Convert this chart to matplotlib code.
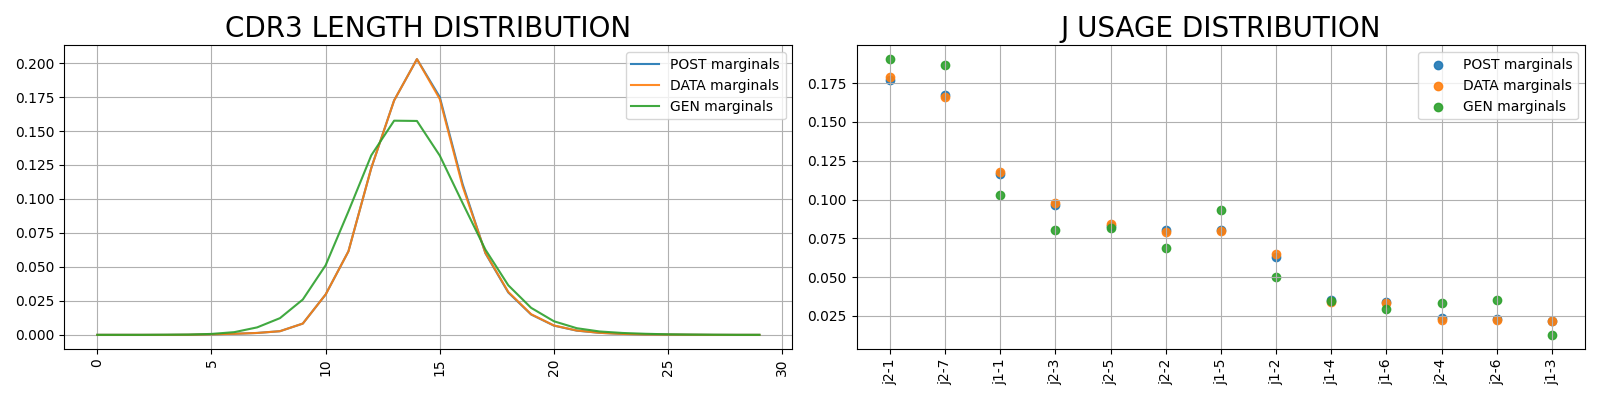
import numpy as np
import matplotlib
matplotlib.use("Agg")
import matplotlib.pyplot as plt

# longitudes CDR3 (0..29)
lengths = list(range(30))
post_len = [0, 0, 0, 0, 0.0001, 0.0004, 0.0008, 0.0014, 0.0027, 0.0083,
            0.0297, 0.0615, 0.1228, 0.1725, 0.2029, 0.1750, 0.1110, 0.0600,
            0.0312, 0.0150, 0.0068, 0.0031, 0.0015, 0.0007, 0.0003, 0.0002,
            0.0001, 0, 0, 0]
data_len = [0, 0, 0, 0, 0.0001, 0.0004, 0.0008, 0.0014, 0.0027, 0.0083,
            0.0297, 0.0615, 0.1228, 0.1725, 0.2029, 0.1735, 0.1093, 0.0603,
            0.0316, 0.0152, 0.0069, 0.0032, 0.0015, 0.0007, 0.0003, 0.0002,
            0.0001, 0, 0, 0]
gen_len = [0, 0, 0, 0.0001, 0.0002, 0.0007, 0.0020, 0.0055, 0.0123, 0.0260,
           0.0512, 0.0909, 0.1321, 0.1576, 0.1574, 0.1319, 0.0970, 0.0627,
           0.0365, 0.0199, 0.0100, 0.0049, 0.0025, 0.0014, 0.0008, 0.0004,
           0.0002, 0.0001, 0, 0]

# uso de genes J
j_genes = ["j2-1", "j2-7", "j1-1", "j2-3", "j2-5", "j2-2", "j1-5", "j1-2",
           "j1-4", "j1-6", "j2-4", "j2-6", "j1-3"]
post_j = [0.1771, 0.1675, 0.1164, 0.0966, 0.0827, 0.0806, 0.0804, 0.0627,
          0.0354, 0.0337, 0.0237, 0.0233, 0.0216]
data_j = [0.1791, 0.1662, 0.1179, 0.0979, 0.0842, 0.0791, 0.0797, 0.0649,
          0.0339, 0.0336, 0.0224, 0.0222, 0.0215]
gen_j = [0.1905, 0.1866, 0.1031, 0.0804, 0.0817, 0.0686, 0.0932, 0.0500,
         0.0346, 0.0295, 0.0333, 0.0354, 0.0128]

fig, (ax1, ax2) = plt.subplots(1, 2, figsize=(16, 4), dpi=100)

ax1.plot(lengths, post_len, label="POST marginals", alpha=0.9)
ax1.plot(lengths, data_len, label="DATA marginals", alpha=0.9)
ax1.plot(lengths, gen_len, label="GEN marginals", alpha=0.9)
ax1.set_title("CDR3 LENGTH DISTRIBUTION", fontsize=20)
ax1.grid(True)
ax1.legend(loc="upper right")
ax1.tick_params(axis="x", labelrotation=90)

ax2.scatter(j_genes, post_j, label="POST marginals", alpha=0.9)
ax2.scatter(j_genes, data_j, label="DATA marginals", alpha=0.9)
ax2.scatter(j_genes, gen_j, label="GEN marginals", alpha=0.9)
ax2.set_title("J USAGE DISTRIBUTION", fontsize=20)
ax2.grid(True)
ax2.legend(loc="upper right")
ax2.tick_params(axis="x", labelrotation=90)

plt.tight_layout()
plt.savefig("out.png")
